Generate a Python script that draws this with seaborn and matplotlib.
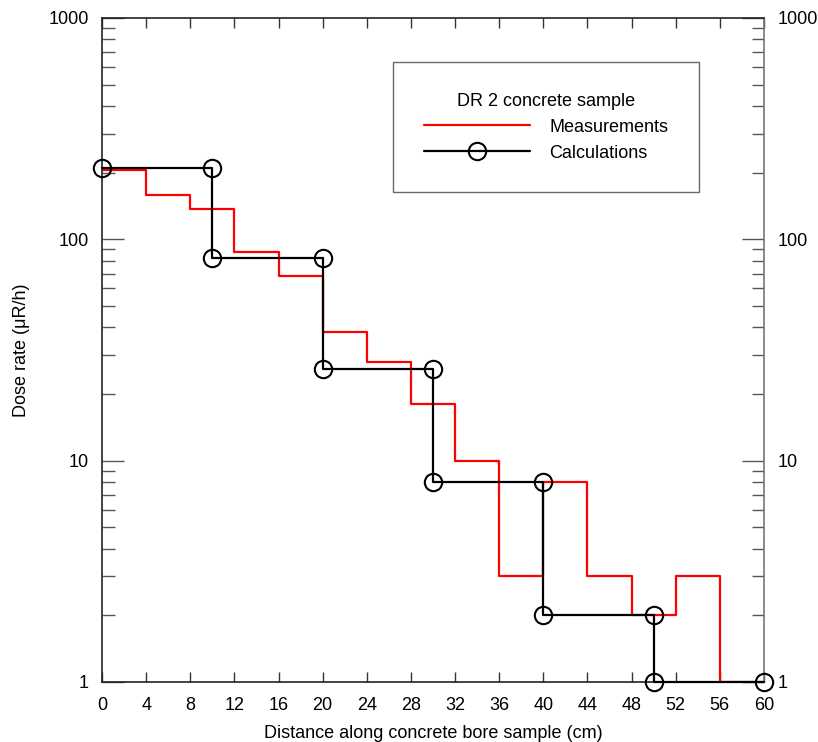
import matplotlib
matplotlib.use("Agg")
import matplotlib.pyplot as plt
import seaborn as sns
import numpy as np
import pandas as pd
from matplotlib.ticker import LogLocator, FixedLocator, NullFormatter
from matplotlib.lines import Line2D

# Data
meas_x = [0, 4, 8, 12, 16, 20, 24, 28, 32, 36, 40, 44, 48, 52, 56, 60]
meas_y = [206, 159, 137, 88, 68, 38, 28, 18, 10, 3, 8, 3, 2, 3, 1, 1]
calc_x = [0, 10, 10, 20, 20, 30, 30, 40, 40, 50, 50, 60]
calc_y = [210, 210, 82, 82, 26, 26, 8, 8, 2, 2, 1, 1]
x_ticks = list(range(0, 61, 4))
y_ticks = [1, 10, 100, 1000]
y_ticklabels = ["1", "10", "100", "1000"]

sns.set_style("white")
plt.rcParams['font.family'] = ['Liberation Sans', 'DejaVu Sans']
plt.rcParams['text.color'] = 'black'
plt.rcParams['axes.labelcolor'] = 'black'
plt.rcParams['xtick.labelcolor'] = 'black'
plt.rcParams['ytick.labelcolor'] = 'black'

FS = 13
fig = plt.figure(figsize=(8.18, 7.42), dpi=100)
ax = fig.add_axes([102/818, 1-682/742, (764-102)/818, (682-18)/742])

meas = pd.DataFrame({"x": meas_x, "y": meas_y})
calc = pd.DataFrame({"x": calc_x, "y": calc_y})

ax.step(meas["x"], meas["y"], where="post", color="red", lw=1.6, zorder=2)
sns.lineplot(data=calc, x="x", y="y", ax=ax, color="black", lw=1.6, sort=False,
             estimator=None, marker="o", markersize=12.5, markerfacecolor="none",
             markeredgecolor="black", markeredgewidth=1.5, zorder=3, clip_on=False)

ax.set_yscale("log")
ax.set_xlim(0, 60)
ax.set_ylim(1, 1000)
ax.set_xticks(x_ticks)
ax.set_xticklabels([str(t) for t in x_ticks], fontsize=FS)
ax.yaxis.set_major_locator(FixedLocator(y_ticks))
ax.set_yticklabels(y_ticklabels, fontsize=FS)
ax.yaxis.set_minor_locator(LogLocator(base=10, subs=np.arange(2, 10)))
ax.yaxis.set_minor_formatter(NullFormatter())

ax.tick_params(axis="x", which="major", direction="in", length=7, width=1,
               top=True, bottom=True, labelsize=FS, pad=11, color="#333333",
               labelcolor="black")
ax.tick_params(axis="y", which="major", direction="in", length=16, width=1,
               left=True, right=True, labelleft=True, labelright=True,
               labelsize=FS, pad=9.5, color="#555555", labelcolor="black")
ax.tick_params(axis="y", which="minor", direction="in", length=9, width=1,
               left=True, right=True, color="#555555")

for s in ax.spines.values():
    s.set_color("#222222")
    s.set_linewidth(1.2)
ax.spines["right"].set_color("#777777")

ax.set_xlabel("Distance along concrete bore sample (cm)", fontsize=FS, labelpad=8, color="black")
ax.set_ylabel("Dose rate (\u03bcR/h)", fontsize=FS, labelpad=13, color="black")

handles = [Line2D([], [], color="red", lw=1.6),
           Line2D([], [], color="black", lw=1.6, marker="o", markersize=12.5,
                  markerfacecolor="none", markeredgewidth=1.5)]
leg = ax.legend(handles, ["Measurements", "Calculations"], title="DR 2 concrete sample",
                loc="upper left", bbox_to_anchor=((393-102)/662, 1-(62-18)/664),
                fontsize=FS, title_fontsize=FS, frameon=True, fancybox=False,
                handlelength=5.9, handletextpad=1.05, borderpad=1.7, labelspacing=0.5,
                borderaxespad=0, edgecolor="#444444", labelcolor="black")
leg.get_title().set_color("black")
leg.get_frame().set_linewidth(1.0)

fig.savefig("out.png", dpi=100)
